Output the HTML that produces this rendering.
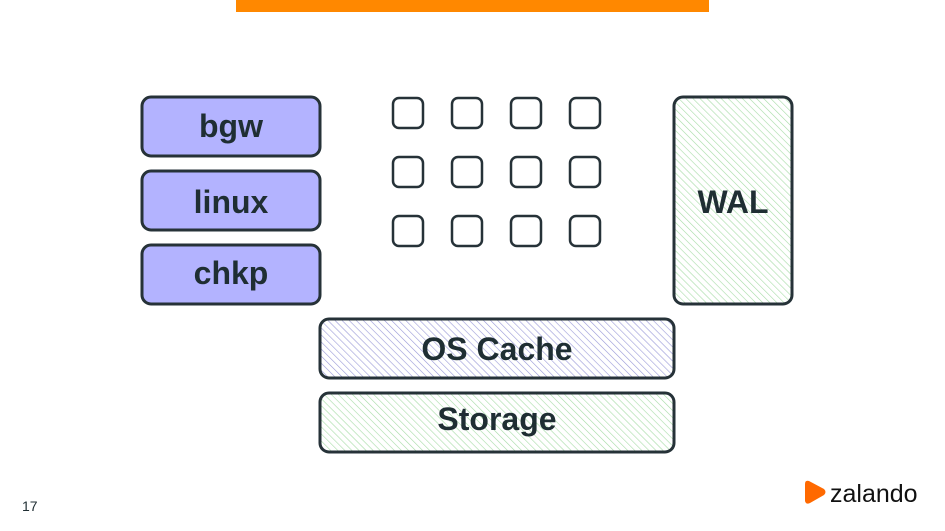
<!DOCTYPE html>
<html><head><meta charset="utf-8"><style>
html,body{margin:0;padding:0;background:#fff;}
svg{display:block}
text{font-family:"Liberation Sans",sans-serif;font-weight:bold;fill:#1f2e33;}
</style></head><body>
<svg width="945" height="531" viewBox="0 0 945 531" xmlns="http://www.w3.org/2000/svg">
<defs>
<pattern id="hb" width="5" height="5" patternUnits="userSpaceOnUse" patternTransform="rotate(-45)">
<rect width="5" height="5" fill="#fff"/><line x1="0" y1="0" x2="0" y2="5" stroke="#9a9ad8" stroke-width="1.2"/>
</pattern>
<pattern id="hg" width="5" height="5" patternUnits="userSpaceOnUse" patternTransform="rotate(-45)">
<rect width="5" height="5" fill="#fff"/><line x1="0" y1="0" x2="0" y2="5" stroke="#a6dca6" stroke-width="1.2"/>
</pattern>
</defs>
<rect x="236" y="0" width="473" height="12" fill="#ff8800"/>
<g stroke="#263238" stroke-width="3">
<rect x="142" y="97" width="178" height="59" rx="9" fill="#b3b3ff"/>
<rect x="142" y="171" width="178" height="59" rx="9" fill="#b3b3ff"/>
<rect x="142" y="245" width="178" height="59" rx="9" fill="#b3b3ff"/>
<rect x="674" y="97" width="118" height="207" rx="9" fill="url(#hg)"/>
<rect x="320" y="319" width="354" height="59" rx="9" fill="url(#hb)"/>
<rect x="320" y="393" width="354" height="59" rx="9" fill="url(#hg)"/>
<g fill="#fff" stroke-width="2.5">
<rect x="393" y="98" width="30" height="30" rx="6"/><rect x="452" y="98" width="30" height="30" rx="6"/><rect x="511" y="98" width="30" height="30" rx="6"/><rect x="570" y="98" width="30" height="30" rx="6"/>
<rect x="393" y="157" width="30" height="30" rx="6"/><rect x="452" y="157" width="30" height="30" rx="6"/><rect x="511" y="157" width="30" height="30" rx="6"/><rect x="570" y="157" width="30" height="30" rx="6"/>
<rect x="393" y="216" width="30" height="30" rx="6"/><rect x="452" y="216" width="30" height="30" rx="6"/><rect x="511" y="216" width="30" height="30" rx="6"/><rect x="570" y="216" width="30" height="30" rx="6"/>
</g>
</g>
<g font-size="32" text-anchor="middle">
<text x="231" y="137">bgw</text>
<text x="231" y="213">linux</text>
<text x="231" y="284">chkp</text>
<text x="733" y="213">WAL</text>
<text x="497" y="360">OS Cache</text>
<text x="497" y="430">Storage</text>
</g>
<text x="22" y="511" font-size="14" style="font-weight:normal" fill="#333">17</text>
<path d="M805 484 Q805 480 809 481 L824 489 Q827 492 824 495 L810 503 Q806 505 805 501 Z" fill="#ff6900"/>
<text x="830" y="502" font-size="25" style="font-weight:normal;fill:#111">zalando</text>
</svg>
</body></html>
